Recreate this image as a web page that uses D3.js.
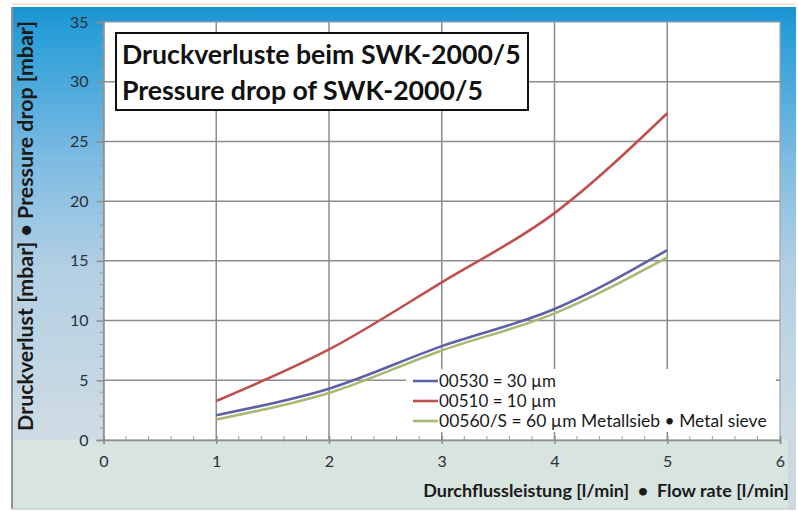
<!DOCTYPE html>
<html>
<head>
<meta charset="utf-8">
<script src="https://cdn.jsdelivr.net/npm/d3@7"></script>
<style>
  html, body { margin: 0; padding: 0; background: #ffffff; }
  svg { display: block; }
  text { font-family: Lato, "Open Sans", sans-serif; }
</style>
</head>
<body>
<svg id="chart" width="798" height="511"></svg>
<script>
// ---- data ----
const flowRate = [1, 2, 3, 4, 5];
const series30 = [2.08, 4.3, 7.86, 10.97, 15.9];
const series10 = [3.27, 7.58, 13.2, 19.0, 27.36];
const series60 = [1.72, 3.94, 7.5, 10.6, 15.3];
const seriesNames = ["00530 = 30 µm", "00510 = 10 µm", "00560/S = 60 µm Metallsieb • Metal sieve"];
const xTicks = [0, 1, 2, 3, 4, 5, 6];
const yTicks = [0, 5, 10, 15, 20, 25, 30, 35];
const titleLines = ["Druckverluste beim SWK-2000/5", "Pressure drop of SWK-2000/5"];
const xTitle = "Durchflussleistung [l/min]  •  Flow rate [l/min]";
const yTitle = "Druckverlust [mbar] • Pressure drop [mbar]";

const colors = ["#5d62a6", "#c0504d", "#a6ba72"];
const allSeries = [series30, series10, series60];

const svg = d3.select("#chart");
const plot = { left: 103.5, right: 780, top: 22, bottom: 440 };

const x = d3.scaleLinear().domain([0, 6]).range([plot.left, plot.right]);
const y = d3.scaleLinear().domain([0, 35]).range([plot.bottom, plot.top]);

function fitText(sel, target) {
  const fs = parseFloat(sel.attr("font-size"));
  const len = sel.node().getComputedTextLength();
  if (len > 0) sel.attr("font-size", fs * target / len);
  return sel;
}

// ---- background frame ----
const defs = svg.append("defs");
const g1 = defs.append("linearGradient").attr("id", "frameGrad")
  .attr("gradientUnits", "userSpaceOnUse").attr("x1", 0).attr("y1", 7).attr("x2", 0).attr("y2", 440);
[[0, "#1a93d2"], [0.06, "#2a9ed8"], [0.35, "#7dbbe2"], [0.6, "#b2cfe3"], [1, "#d0dce4"]]
  .forEach(s => g1.append("stop").attr("offset", s[0]).attr("stop-color", s[1]));

svg.append("line").attr("x1", 12).attr("x2", 796).attr("y1", 4).attr("y2", 4)
  .attr("stroke", "#f3e6e6").attr("stroke-width", 2);
svg.append("rect").attr("x", 12).attr("y", 7).attr("width", 784).attr("height", 502)
  .attr("fill", "url(#frameGrad)");
svg.append("rect").attr("x", 12).attr("y", 440).attr("width", 776).attr("height", 69)
  .attr("fill", "#d7e4df");
svg.append("rect").attr("x", 788).attr("y", 440).attr("width", 8).attr("height", 69)
  .attr("fill", "#cfd8dc");
svg.append("line").attr("x1", 12).attr("x2", 12).attr("y1", 7).attr("y2", 509)
  .attr("stroke", "#8f9496").attr("stroke-width", 2);
svg.append("line").attr("x1", 12).attr("x2", 796).attr("y1", 509).attr("y2", 509)
  .attr("stroke", "#c9cfd0").attr("stroke-width", 1.5);

// ---- plot area ----
svg.append("rect").attr("x", plot.left).attr("y", plot.top)
  .attr("width", plot.right - plot.left).attr("height", plot.bottom - plot.top)
  .attr("fill", "#ffffff").attr("stroke", "#a3a3a3").attr("stroke-width", 1.2);

// gridlines
const grid = svg.append("g").attr("stroke", "#8c8c8c").attr("stroke-width", 1.5);
grid.selectAll(".hg").data(yTicks.filter(d => d > 0 && d < 35)).join("line")
  .attr("x1", plot.left).attr("x2", plot.right)
  .attr("y1", d => y(d)).attr("y2", d => y(d));
grid.selectAll(".vg").data(xTicks.filter(d => d > 0 && d < 6)).join("line")
  .attr("y1", plot.top).attr("y2", plot.bottom)
  .attr("x1", d => x(d)).attr("x2", d => x(d));

// axes
const yAxis = d3.axisLeft(y).tickValues(yTicks).tickFormat(d3.format("d")).tickSize(7).tickPadding(8);
const yAxisG = svg.append("g").attr("transform", `translate(${plot.left},0)`).call(yAxis);
const xAxis = d3.axisBottom(x).tickValues(xTicks).tickFormat(d3.format("d")).tickSize(4).tickPadding(12);
const xAxisG = svg.append("g").attr("transform", `translate(0,${plot.bottom})`).call(xAxis);
[yAxisG, xAxisG].forEach(g => {
  g.select(".domain").attr("stroke", "#8c8c8c").attr("stroke-width", 1.5);
  g.selectAll(".tick line").attr("stroke", "#8c8c8c").attr("stroke-width", 1.5);
  g.selectAll(".tick text").attr("fill", "#26313b").attr("font-size", 16)
    .attr("font-family", "Lato, sans-serif");
});
xAxisG.selectAll(".tick line").attr("y1", -4);

// minor ticks
const yMinor = d3.range(0, 35.01, 1).filter(d => d % 5 !== 0);
svg.append("g").selectAll("line").data(yMinor).join("line")
  .attr("x1", plot.left - 4).attr("x2", plot.left)
  .attr("y1", d => y(d)).attr("y2", d => y(d))
  .attr("stroke", "#9a9a9a").attr("stroke-width", 1);
const xMinor = d3.range(0, 6.001, 0.2).filter(d => Math.abs(d - Math.round(d)) > 0.01);
svg.append("g").selectAll("line").data(xMinor).join("line")
  .attr("x1", d => x(d)).attr("x2", d => x(d))
  .attr("y1", plot.bottom - 4).attr("y2", plot.bottom + 2)
  .attr("stroke", "#9a9a9a").attr("stroke-width", 1);

// ---- series ----
const line = d3.line().x((d, i) => x(flowRate[i])).y(d => y(d)).curve(d3.curveMonotoneX);
[series60, series30, series10].forEach(s => {
  const idx = allSeries.indexOf(s);
  svg.append("path").datum(s).attr("d", line)
    .attr("fill", "none").attr("stroke", colors[idx]).attr("stroke-width", 2.6)
    .attr("stroke-linejoin", "round");
});

// ---- title box ----
svg.append("rect").attr("x", 116).attr("y", 33).attr("width", 412).attr("height", 77)
  .attr("fill", "#ffffff").attr("stroke", "#111111").attr("stroke-width", 2);
const t1 = svg.append("text").attr("x", 122).attr("y", 64).attr("font-size", 26)
  .attr("font-weight", "bold").attr("fill", "#111").text(titleLines[0]);
fitText(t1, 399);
const t2 = svg.append("text").attr("x", 122).attr("y", 100).attr("font-size", 26)
  .attr("font-weight", "bold").attr("fill", "#111").text(titleLines[1]);
t2.attr("font-size", t1.attr("font-size"));

// ---- legend ----
svg.append("rect").attr("x", 406).attr("y", 369).attr("width", 370).attr("height", 63)
  .attr("fill", "#ffffff");
const legY = [381, 401, 421];
seriesNames.forEach((name, i) => {
  svg.append("line").attr("x1", 413).attr("x2", 438)
    .attr("y1", legY[i]).attr("y2", legY[i])
    .attr("stroke", colors[i]).attr("stroke-width", 2.6);
  const t = svg.append("text").attr("x", 439).attr("y", legY[i]).attr("dy", "0.36em")
    .attr("font-size", 17).attr("fill", "#1a1a1a").text(name);
  if (i === 2) fitText(t, 328);
});

// ---- axis titles ----
const xt = svg.append("text").attr("x", 789).attr("y", 497).attr("text-anchor", "end")
  .attr("font-size", 16).attr("font-weight", "bold").attr("fill", "#1a1a1a")
  .attr("xml:space", "preserve").style("white-space", "pre").text(xTitle);
fitText(xt, 366);
const yt = svg.append("text").attr("transform", "translate(33,226) rotate(-90)")
  .attr("text-anchor", "middle").attr("font-size", 17).attr("font-weight", "bold")
  .attr("fill", "#1a1a1a").text(yTitle);
fitText(yt, 410);
</script>
</body>
</html>
